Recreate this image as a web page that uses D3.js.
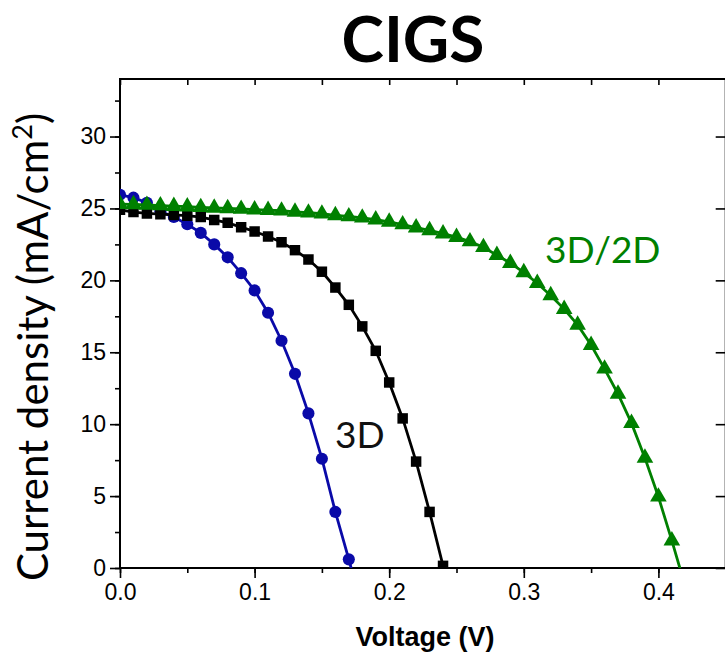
<!DOCTYPE html>
<html>
<head>
<meta charset="utf-8">
<script src="https://cdn.jsdelivr.net/npm/d3@7"></script>
<style>
  body { margin: 0; background: #fff; }
  #chart { width: 725px; height: 658px; overflow: hidden; }
</style>
</head>
<body>
<div id="chart"></div>
<script>
// voltage steps (V)
var voltage = [0.00, 0.01, 0.02, 0.03, 0.04, 0.05, 0.06, 0.07, 0.08, 0.09,
  0.10, 0.11, 0.12, 0.13, 0.14, 0.15, 0.16, 0.17, 0.18, 0.19, 0.20, 0.21,
  0.22, 0.23, 0.24, 0.25, 0.26, 0.27, 0.28, 0.29, 0.30, 0.31, 0.32, 0.33,
  0.34, 0.35, 0.36, 0.37, 0.38, 0.39, 0.40, 0.41, 0.42];

// current density (mA/cm2), one value per voltage step
var blueJ = [25.95, 25.75, 25.4, 24.8, 24.4, 23.9, 23.3, 22.5, 21.6, 20.5,
  19.3, 17.75, 15.8, 13.5, 10.75, 7.6, 3.9, 0.6, -2.9];
var blackJ = [24.9, 24.75, 24.65, 24.6, 24.55, 24.5, 24.4, 24.2, 24.0, 23.7,
  23.4, 23.05, 22.65, 22.1, 21.45, 20.6, 19.5, 18.3, 16.8, 15.1, 12.9, 10.4,
  7.4, 3.9, 0.15];
var greenJ = [25.3, 25.28, 25.24, 25.2, 25.16, 25.12, 25.08, 25.04, 25.0, 24.96,
  24.92, 24.88, 24.84, 24.76, 24.7, 24.63, 24.52, 24.44, 24.35, 24.22, 24.06,
  23.88, 23.67, 23.47, 23.25, 23.0, 22.7, 22.3, 21.75, 21.2, 20.55, 19.8,
  18.95, 18.0, 16.9, 15.5, 13.85, 12.1, 10.07, 7.65, 4.95, 1.9, -1.3];

var xTicks = [0.0, 0.1, 0.2, 0.3, 0.4];
var yTicks = [0, 5, 10, 15, 20, 25, 30];

var width = 725, height = 658;
var margin = { top: 79, left: 120 };
var plotW = 605.7, plotH = 489;

var svg = d3.select('#chart').append('svg')
  .attr('width', width)
  .attr('height', height);

var x = d3.scaleLinear().domain([0, 0.45]).range([0, plotW]);
var y = d3.scaleLinear().domain([0, 34]).range([plotH, 0]);

var g = svg.append('g')
  .attr('transform', 'translate(' + margin.left + ',' + margin.top + ')');

g.append('clipPath').attr('id', 'plot-clip')
  .append('rect').attr('width', plotW).attr('height', plotH);

var tickFont = '"Liberation Sans", Arial, sans-serif';

// frame + ticks
var xMinor = d3.range(0, 0.451, 0.05);
var yMinor = d3.range(0, 34, 2.5);

g.append('g').attr('transform', 'translate(0,' + plotH + ')')
  .call(d3.axisBottom(x).tickValues(xMinor).tickSize(5).tickFormat(''))
  .call(function(a) { a.select('.domain').remove(); });
g.append('g').attr('transform', 'translate(0,' + plotH + ')')
  .call(d3.axisBottom(x).tickValues(xTicks).tickSize(10).tickPadding(6)
    .tickFormat(d3.format('.1f')))
  .call(function(a) { a.select('.domain').remove(); });

g.append('g')
  .call(d3.axisLeft(y).tickValues(yMinor).tickSize(5).tickFormat(''))
  .call(function(a) { a.select('.domain').remove(); });
g.append('g')
  .call(d3.axisLeft(y).tickValues(yTicks).tickSize(10).tickPadding(4))
  .call(function(a) { a.select('.domain').remove(); });

// top + right mirror ticks point inward
g.append('g')
  .call(d3.axisBottom(x).tickValues(xMinor).tickSize(6).tickFormat(''))
  .call(function(a) { a.select('.domain').remove(); });
g.append('g').attr('transform', 'translate(' + plotW + ',0)')
  .call(d3.axisLeft(y).tickValues(yMinor).tickSize(-5).tickFormat(''))
  .call(function(a) { a.select('.domain').remove(); });
g.append('g').attr('transform', 'translate(' + plotW + ',0)')
  .call(d3.axisRight(y).tickValues(yTicks).tickSize(-10).tickFormat(''))
  .call(function(a) { a.select('.domain').remove(); });

g.selectAll('.tick line').attr('stroke', '#000').attr('stroke-width', 1.6);
g.selectAll('.tick text')
  .attr('font-family', tickFont)
  .attr('font-size', 23)
  .attr('fill', '#000');

g.append('rect')
  .attr('width', plotW).attr('height', plotH)
  .attr('fill', 'none').attr('stroke', '#000').attr('stroke-width', 2);

// series
var series = [
  { name: 'blue', values: blueJ, color: '#0a0aa8', symbol: d3.symbolCircle, size: 115 },
  { name: 'black', values: blackJ, color: '#000000', symbol: d3.symbolSquare, size: 110 },
  { name: 'green', values: greenJ, color: '#008000', symbol: d3.symbolTriangle, size: 120 }
];

var line = d3.line()
  .x(function(d) { return x(d.v); })
  .y(function(d) { return y(d.j); });

var plot = g.append('g').attr('clip-path', 'url(#plot-clip)');

series.forEach(function(s) {
  var pts = s.values.map(function(j, i) { return { v: voltage[i], j: j }; });
  plot.append('path')
    .datum(pts)
    .attr('fill', 'none')
    .attr('stroke', s.color)
    .attr('stroke-width', 2.8)
    .attr('d', line);
  plot.selectAll('.m-' + s.name)
    .data(pts)
    .enter().append('path')
    .attr('class', 'm-' + s.name)
    .attr('fill', s.color)
    .attr('transform', function(d) { return 'translate(' + x(d.v) + ',' + y(d.j) + ')'; })
    .attr('d', d3.symbol().type(s.symbol).size(s.size));
});

// labels
var labelFont = 'Lato, "Open Sans", sans-serif';

svg.append('text')
  .attr('x', 413).attr('y', 62)
  .attr('text-anchor', 'middle')
  .attr('font-family', labelFont)
  .attr('font-weight', 'bold')
  .attr('font-size', 64)
  .text('CIGS');

g.append('text')
  .attr('x', 215).attr('y', 369)
  .attr('font-family', labelFont)
  .attr('font-size', 37)
  .attr('fill', '#111')
  .text('3D');

g.append('text')
  .attr('x', 425).attr('y', 184)
  .attr('font-family', labelFont)
  .attr('font-size', 37)
  .attr('fill', '#008000')
  .text('3D/2D');

svg.append('text')
  .attr('x', 425).attr('y', 646)
  .attr('text-anchor', 'middle')
  .attr('font-family', tickFont)
  .attr('font-weight', 'bold')
  .attr('font-size', 27)
  .text('Voltage (V)');

var yl = svg.append('text')
  .attr('transform', 'translate(48,347) rotate(-90)')
  .attr('text-anchor', 'middle')
  .attr('font-family', labelFont)
  .attr('font-size', 42);
yl.append('tspan').text('Current density (mA/cm');
yl.append('tspan').attr('font-size', 27).attr('dy', -16).text('2');
yl.append('tspan').attr('dy', 16).text(')');
</script>
</body>
</html>
